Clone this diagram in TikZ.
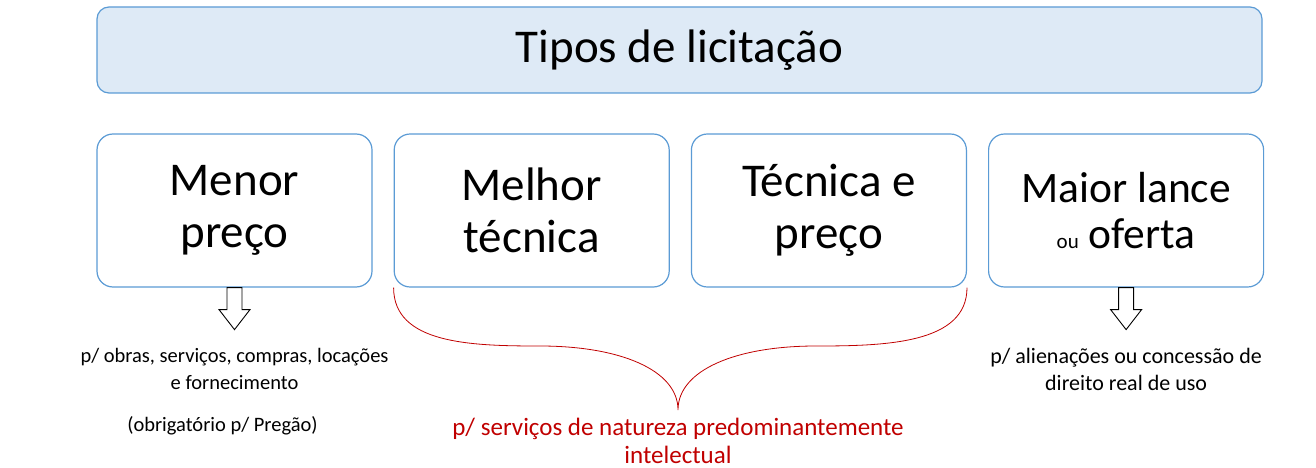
\documentclass[tikz,border=0pt]{standalone}
\usepackage{fontspec}
\setmainfont{Carlito}
\usetikzlibrary{positioning,calc}
\definecolor{boxblue}{RGB}{91,155,213}
\definecolor{titlefill}{RGB}{222,234,246}
\definecolor{bracered}{RGB}{192,0,0}
\tikzset{
  tipo/.style={draw=boxblue, line width=1.2pt, rounded corners=16pt, fill=white,
    minimum width=275pt, minimum height=153pt, align=center, inner sep=0pt,
    font=\fontsize{47}{52}\selectfont},
  titulo/.style={tipo, fill=titlefill, minimum width=1165pt, minimum height=86pt,
    rounded corners=12pt},
  nota/.style={align=center, inner sep=0pt, font=\fontsize{20.5}{27}\selectfont},
  seta/.style={draw=black, line width=0.9pt, fill=white},
}
\begin{document}
\begin{tikzpicture}[x=1pt, y=-1pt]
  \useasboundingbox (0,0) rectangle (1316,468);
  % titulo
  \node[titulo] (titulo) at (679.5,50) {Tipos de licitação};

  % tipos
  \node[tipo] (menor) at (234.5,210.5) {Menor\\preço};
  \node[tipo, right=21pt of menor] (melhor) {Melhor\\técnica};
  \node[tipo, right=21pt of melhor] (tecnica) {Técnica e\\preço};
  \node[tipo, right=21pt of tecnica, font=\fontsize{43.5}{46}\selectfont] (maior)
    {Maior lance\\{\fontsize{21}{21}\selectfont ou} oferta};

  % setas
  \coordinate (pMenor) at ($(menor.south)+(0,42)$);
  \coordinate (pMaior) at ($(maior.south)+(0,42)$);
  \draw[seta] ($(menor.south)+(-7.5,0)$) -- ++(0,22) -- ++(-8,0) -- (pMenor)
    -- ++(15.5,-20) -- ++(-8,0) -- ++(0,-22) -- cycle;
  \draw[seta] ($(maior.south)+(-7.5,0)$) -- ++(0,22) -- ++(-8,0) -- (pMaior)
    -- ++(15.5,-20) -- ++(-8,0) -- ++(0,-22) -- cycle;

  \node[nota, below=18pt of pMenor] (notaMenor)
    {p/ obras, serviços, compras, locações\\e fornecimento};
  \node[nota, below=27pt of notaMenor, xshift=-12pt] (pregao)
    {(obrigatório p/ Pregão)};
  \node[nota, below=18pt of pMaior, font=\fontsize{22}{27}\selectfont] (notaMaior)
    {p/ alienações ou concessão de\\direito real de uso};

  % chave
  \coordinate (ponta) at (678,410);
  \draw[bracered, line width=0.8pt] (melhor.south west)
    .. controls ++(0,56) and (470,346) .. (540,346)
    .. controls (620,346) and (678,370) .. (ponta)
    .. controls (678,370) and (736,346) .. (816,346)
    .. controls (886,346) and ($(tecnica.south east)+(0,56)$) .. (tecnica.south east);
  \node[nota, text=bracered, below=8pt of ponta, font=\fontsize{25}{28}\selectfont] (notaIntel)
    {p/ serviços de natureza predominantemente\\intelectual};
\end{tikzpicture}
\end{document}
